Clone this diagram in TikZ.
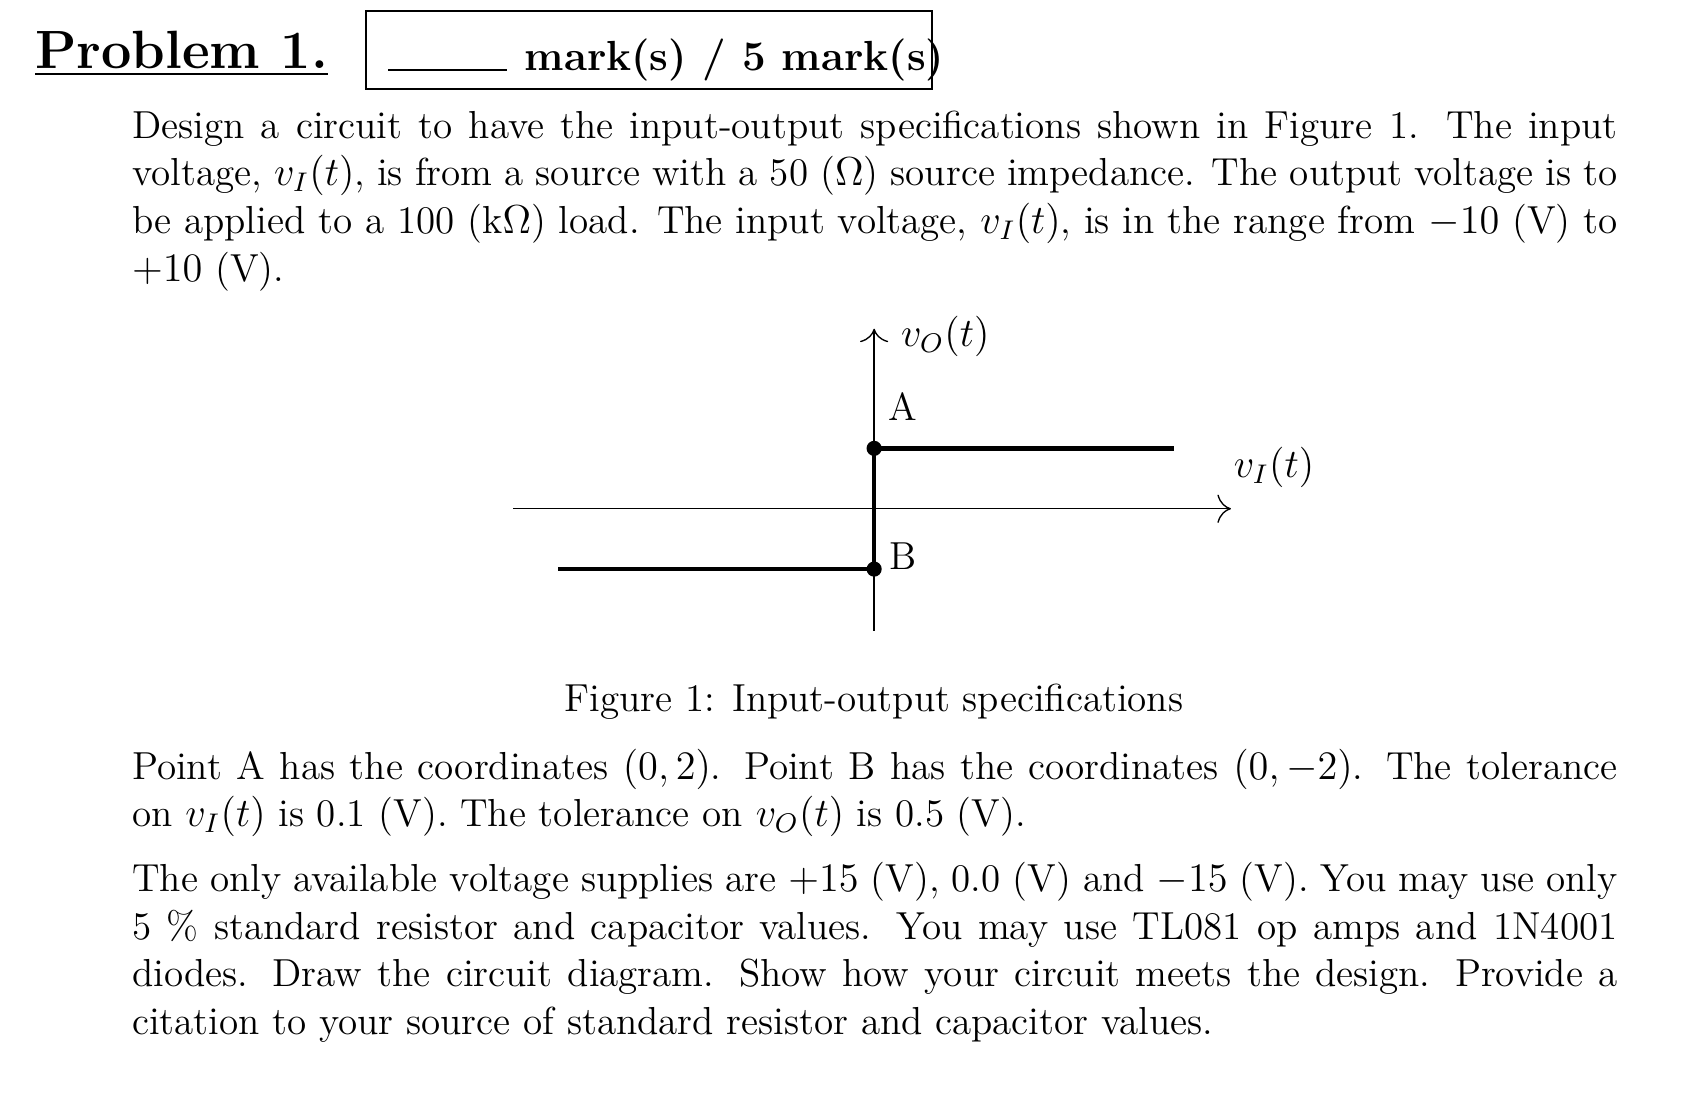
\documentclass[tikz,border=0pt]{standalone}
\usetikzlibrary{arrows.meta}
\begin{document}
\begin{tikzpicture}[x=0.32pt,y=-0.32pt,
  para/.style={anchor=north west,text width=441pt,align=justify,inner sep=0pt,font=\fontsize{11.6}{14.2}\selectfont},
  thick line/.style={line width=1.3pt},
  dot/.style={circle,fill=black,inner sep=0pt,minimum size=4.5pt}]
\useasboundingbox (0,0) rectangle (1567,1031);
\node[anchor=base west,inner sep=0pt,font=\fontsize{16}{20}\selectfont\bfseries] (title) at (32,64) {\underline{Problem 1.}};
\draw[line width=0.6pt] (340,10) rectangle (865,83);
\coordinate (l1) at (360,65); \coordinate (l2) at (470,65);
\draw[line width=0.6pt] (l1) -- (l2);
\node[anchor=base west,inner sep=0pt,font=\fontsize{12.5}{15}\selectfont\bfseries] (marks) at (486,65) {mark(s) / 5 mark(s)};
\node[para] (p1) at (122,102) {Design a circuit to have the input-output specifications shown in Figure 1. The input voltage, $v_I(t)$, is from a source with a 50 ($\Omega$) source impedance. The output voltage is to be applied to a 100 (k$\Omega$) load. The input voltage, $v_I(t)$, is in the range from $-10$ (V) to $+10$ (V).};
% figure
\coordinate (yb) at (811,585); \coordinate (yt) at (811,305);
\coordinate (xl) at (476,472); \coordinate (xr) at (1142,472);
\draw[line width=0.4pt,-{To[length=4pt]}] (yb) -- (yt);
\draw[line width=0.4pt,-{To[length=4pt]}] (xl) -- (xr);
\node[dot] (A) at (811,416) {};
\node[dot] (B) at (811,528) {};
\coordinate (Ae) at (1089,416); \coordinate (Be) at (518,528);
\draw[thick line] (Be) -- (B.center) -- (A.center) -- (Ae);
\node[font=\fontsize{11.6}{14}\selectfont] (vo) at (877,312) {$v_O(t)$};
\node[font=\fontsize{11.6}{14}\selectfont] (la) at (838,377) {A};
\node[font=\fontsize{11.6}{14}\selectfont] (lb) at (838,516) {B};
\node[font=\fontsize{11.6}{14}\selectfont] (vi) at (1182,434) {$v_I(t)$};
\node[font=\fontsize{11.6}{14}\selectfont] (cap) at (811,651) {Figure 1: Input-output specifications};
\node[para] (p2) at (122,694) {Point A has the coordinates $(0,2)$. Point B has the coordinates $(0,-2)$. The tolerance on $v_I(t)$ is 0.1 (V). The tolerance on $v_O(t)$ is 0.5 (V).};
\node[para] (p3) at (122,799) {The only available voltage supplies are $+15$ (V), 0.0 (V) and $-15$ (V). You may use only 5 \% standard resistor and capacitor values. You may use TL081 op amps and 1N4001 diodes. Draw the circuit diagram. Show how your circuit meets the design. Provide a citation to your source of standard resistor and capacitor values.};
\end{tikzpicture}
\end{document}
